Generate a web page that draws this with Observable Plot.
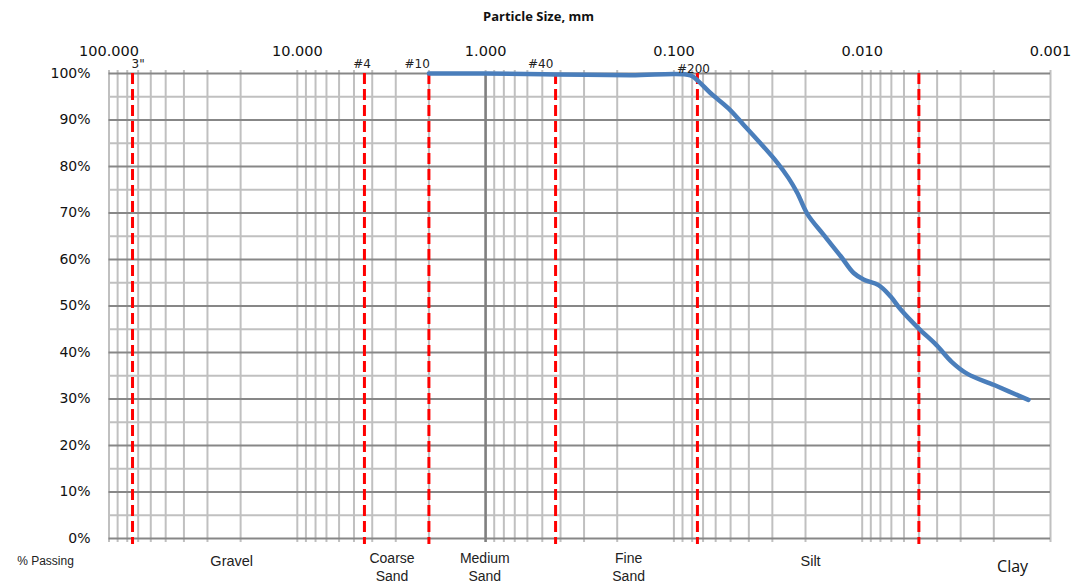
<!DOCTYPE html>
<html>
<head>
<meta charset="utf-8">
<script src="https://cdn.jsdelivr.net/npm/d3@7"></script>
<script src="https://cdn.jsdelivr.net/npm/@observablehq/plot@0.6"></script>
<style>
  html, body { margin: 0; padding: 0; background: #fff; }
  #chart svg { display: block; }
</style>
</head>
<body>
<div id="chart"></div>
<script>
// Grain-size distribution (particle diameter in mm, % passing)
const diameterMm = [2.0, 1.0, 0.425, 0.17, 0.0817, 0.074, 0.064, 0.0513, 0.0427, 0.0347, 0.0282, 0.0246, 0.0221, 0.0195, 0.0161, 0.0130, 0.0111, 0.00984, 0.00819, 0.00708, 0.00626, 0.00502, 0.00403, 0.00335, 0.00276, 0.00199, 0.00131];
const percentPassing = [100, 100, 99.8, 99.6, 99.6, 98.3, 95.8, 92.5, 89.0, 85.0, 80.8, 77.5, 74.3, 69.7, 65.4, 60.7, 57.1, 55.7, 54.5, 52.1, 49.3, 45.2, 41.6, 38.0, 35.4, 33.0, 29.8];

// Sieve / boundary sizes (mm) and their labels
const sieveSizes = [75, 4.4, 2.0, 0.425, 0.075, 0.005];
const sieveNames = ['3"', "#4", "#10", "#40", "#200", ""];
const sieveLabelAt = [70, 4.53, 2.31, 0.51, 0.0787, null];

// Soil classes and where their labels sit (mm)
const zoneNames = ["Gravel", "Coarse\nSand", "Medium\nSand", "Fine\nSand", "Silt", "Clay"];
const zoneLabelAt = [22.3, 3.14, 1.01, 0.174, 0.0188, 0.00159];

// Axis ticks
const xTickValues = [100, 10, 1, 0.1, 0.01, 0.001];
const yTickValues = [0, 10, 20, 30, 40, 50, 60, 70, 80, 90, 100];
const yMinorValues = [5, 15, 25, 35, 45, 55, 65, 75, 85, 95];

const titleText = "Particle Size, mm";
const yAxisText = "% Passing";

// build tables
const curve = diameterMm.map((d, i) => ({d, p: percentPassing[i]}));
const sieves = sieveSizes.map((d, i) => ({d, name: sieveNames[i], at: sieveLabelAt[i]}));
const zones = zoneNames.map((name, i) => ({name, at: zoneLabelAt[i]}));
const xMinor = [];
for (const k of [-3, -2, -1, 0, 1]) for (let m = 1; m <= 9; m++) xMinor.push(m * Math.pow(10, k));
xMinor.push(100);

const sans = "Liberation Sans, Arial, sans-serif";
const dv = "DejaVu Sans, Verdana, sans-serif";

const chart = Plot.plot({
  width: 1082,
  height: 583,
  marginLeft: 108.5,
  marginRight: 32,
  marginTop: 73,
  marginBottom: 45,
  style: {fontFamily: sans, background: "#fff", overflow: "visible"},
  x: {type: "log", domain: [100, 0.001], axis: null},
  y: {domain: [0, 100], axis: null},
  marks: [
    // vertical grid (log)
    Plot.ruleX(xMinor, {x: d => d, stroke: "#c0c0c0", strokeWidth: 2, insetTop: -3, insetBottom: -4}),
    // horizontal grid
    Plot.ruleY(yMinorValues, {y: d => d, stroke: "#c0c0c0", strokeWidth: 2}),
    Plot.ruleY(yTickValues, {y: d => d, stroke: "#878787", strokeWidth: 2}),
    // value axis line crossing at 1 mm
    Plot.ruleX([1], {x: d => d, stroke: "#808080", strokeWidth: 2.5, insetBottom: -4}),
    // sieve boundaries
    Plot.ruleX(sieves, {x: "d", stroke: "#ff0000", strokeWidth: 3, strokeDasharray: "11,5", insetBottom: -6}),
    // grading curve
    Plot.line(curve, {x: "d", y: "p", stroke: "#4a7ebb", strokeWidth: 4.5, curve: "catmull-rom", strokeLinecap: "round", strokeLinejoin: "round"}),
    // sieve labels
    Plot.text(sieves.filter(s => s.name && s.name !== "#200"), {x: "at", text: "name", frameAnchor: "top", dy: -9, lineAnchor: "middle", fontFamily: dv, fontSize: 12, fill: "#222"}),
    Plot.text(sieves.filter(s => s.name === "#200"), {x: "at", text: "name", frameAnchor: "top", dy: -4, lineAnchor: "middle", fontFamily: dv, fontSize: 12, fill: "#222"}),
    // top tick labels
    Plot.text(xTickValues, {x: d => d, text: d => d3.format(".3f")(d), frameAnchor: "top", dy: -22, lineAnchor: "middle", fontFamily: dv, fontSize: 14.5, fill: "#111"}),
    // y tick labels
    Plot.text(yTickValues, {y: d => d, text: d => d + "%", frameAnchor: "left", dx: -18.5, textAnchor: "end", lineAnchor: "middle", fontFamily: dv, fontSize: 14, fill: "#111"}),
    // zone labels
    Plot.text(zones.filter(z => z.name.includes("\n")), {x: "at", text: "name", frameAnchor: "bottom", dy: 28, lineAnchor: "middle", lineHeight: 1.3, fontSize: 14, letterSpacing: 1.3, fill: "#222"}),
    Plot.text(zones.filter(z => !z.name.includes("\n") && z.name !== "Clay"), {x: "at", text: "name", frameAnchor: "bottom", dy: 23, lineAnchor: "middle", fontSize: 14.5, letterSpacing: 1.3, fill: "#222"}),
    Plot.text(zones.filter(z => z.name === "Clay"), {x: "at", text: "name", frameAnchor: "bottom", dy: 28, lineAnchor: "middle", fontFamily: "Open Sans, sans-serif", fontSize: 16, fill: "#111"}),
    // title and y label
    Plot.text([titleText], {text: d => d, frameAnchor: "top-left", dx: 429.5, dy: -57, textAnchor: "middle", lineAnchor: "middle", fontFamily: "Open Sans, sans-serif", fontWeight: "bold", fontSize: 13, fill: "#111"}),
    Plot.text([yAxisText], {text: d => d, frameAnchor: "bottom-left", dx: -63.5, dy: 23, textAnchor: "middle", lineAnchor: "middle", fontSize: 12, letterSpacing: 0.8, fill: "#222"})
  ]
});
document.getElementById("chart").appendChild(chart);
</script>
</body>
</html>
